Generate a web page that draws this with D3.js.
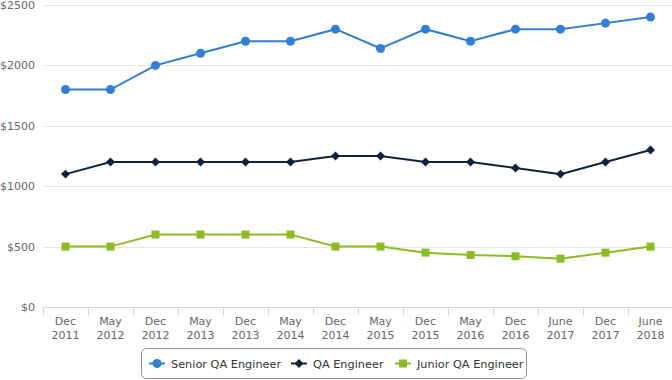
<!DOCTYPE html>
<html><head><meta charset="utf-8">
<script src="https://cdn.jsdelivr.net/npm/d3@7"></script>
<style>body{margin:0;background:#fff;}svg{display:block;font-family:"DejaVu Sans",sans-serif;}</style>
</head><body>
<svg id="c" width="672" height="380"></svg>
<script>
const categories = [["Dec","2011"],["May","2012"],["Dec","2012"],["May","2013"],["Dec","2013"],["May","2014"],["Dec","2014"],["May","2015"],["Dec","2015"],["May","2016"],["Dec","2016"],["June","2017"],["Dec","2017"],["June","2018"]];
const seniorQA = [1800,1800,2000,2100,2200,2200,2300,2140,2300,2200,2300,2300,2350,2400];
const qa = [1100,1200,1200,1200,1200,1200,1250,1250,1200,1200,1150,1100,1200,1300];
const juniorQA = [500,500,600,600,600,600,500,500,450,430,420,400,450,500];
const yTicks = [0,500,1000,1500,2000,2500];
const seriesNames = ["Senior QA Engineer","QA Engineer","Junior QA Engineer"];
const colors = ["#2f7ed8","#0d233a","#8bbc21"];
const symbols = [d3.symbolCircle, d3.symbolSquare, d3.symbolSquare];
const symSizes = [64, 40, 64];
const symRot = [0, 45, 0];

(function(){
const svg = d3.select("#c");
const pl = 43, pr = 673, pt = 5, pb = 307;
const x = d3.scaleBand().domain(d3.range(categories.length)).range([pl, pr]);
const y = d3.scaleLinear().domain([0,2500]).range([pb, pt]);

svg.append("g").selectAll("line").data(yTicks.slice(1)).join("line")
  .attr("x1", pl).attr("x2", 672).attr("y1", d=>Math.round(y(d))+0.5).attr("y2", d=>Math.round(y(d))+0.5)
  .attr("stroke","#e6e6e6");

svg.append("g").selectAll("text").data(yTicks).join("text")
  .attr("x", 35).attr("y", d=>y(d)+4).attr("text-anchor","end")
  .attr("font-size", 11).attr("fill","#666").text(d=>"$"+d);

const xa = svg.append("g");
xa.append("line").attr("x1", pl).attr("x2", 672).attr("y1", pb+0.5).attr("y2", pb+0.5).attr("stroke","#ccd6eb");
xa.selectAll("line.t").data(d3.range(categories.length)).join("line").attr("class","t")
  .attr("x1", d=>Math.round(x(d))+0.5).attr("x2", d=>Math.round(x(d))+0.5)
  .attr("y1", pb).attr("y2", pb+8).attr("stroke","#ccd6eb");
const xl = xa.selectAll("text").data(categories).join("text")
  .attr("text-anchor","middle").attr("font-size",11).attr("fill","#666");
xl.append("tspan").attr("x",(d,i)=>x(i)+x.bandwidth()/2).attr("y",pb+18).text(d=>d[0]);
xl.append("tspan").attr("x",(d,i)=>x(i)+x.bandwidth()/2).attr("y",pb+32).text(d=>d[1]);

const data = [seniorQA, qa, juniorQA];
const line = d3.line().x((d,i)=>x(i)+x.bandwidth()/2).y(d=>y(d));
data.forEach((s,k)=>{
  const g = svg.append("g");
  g.append("path").attr("d", line(s)).attr("fill","none").attr("stroke",colors[k]).attr("stroke-width",2);
  g.selectAll("path.m").data(s).join("path").attr("class","m")
    .attr("transform",(d,i)=>`translate(${x(i)+x.bandwidth()/2},${y(d)}) rotate(${symRot[k]})`)
    .attr("d", d3.symbol().type(symbols[k]).size(symSizes[k])).attr("fill",colors[k]);
});

const lg = svg.append("g");
lg.append("rect").attr("x",141.5).attr("y",348.5).attr("width",385).attr("height",30).attr("rx",5)
  .attr("fill","#fff").attr("stroke","#909090");
const lx = [149, 291, 395];
seriesNames.forEach((n,k)=>{
  const g = lg.append("g").attr("transform",`translate(${lx[k]},363.5)`);
  g.append("line").attr("x1",0).attr("x2",16).attr("stroke",colors[k]).attr("stroke-width",2);
  g.append("path").attr("transform",`translate(8,0) rotate(${symRot[k]})`).attr("d", d3.symbol().type(symbols[k]).size(symSizes[k])).attr("fill",colors[k]);
  g.append("text").attr("x",22).attr("y",4.5).attr("font-size",11.3).attr("fill","#333").text(n);
});
})();
</script>
</body></html>
